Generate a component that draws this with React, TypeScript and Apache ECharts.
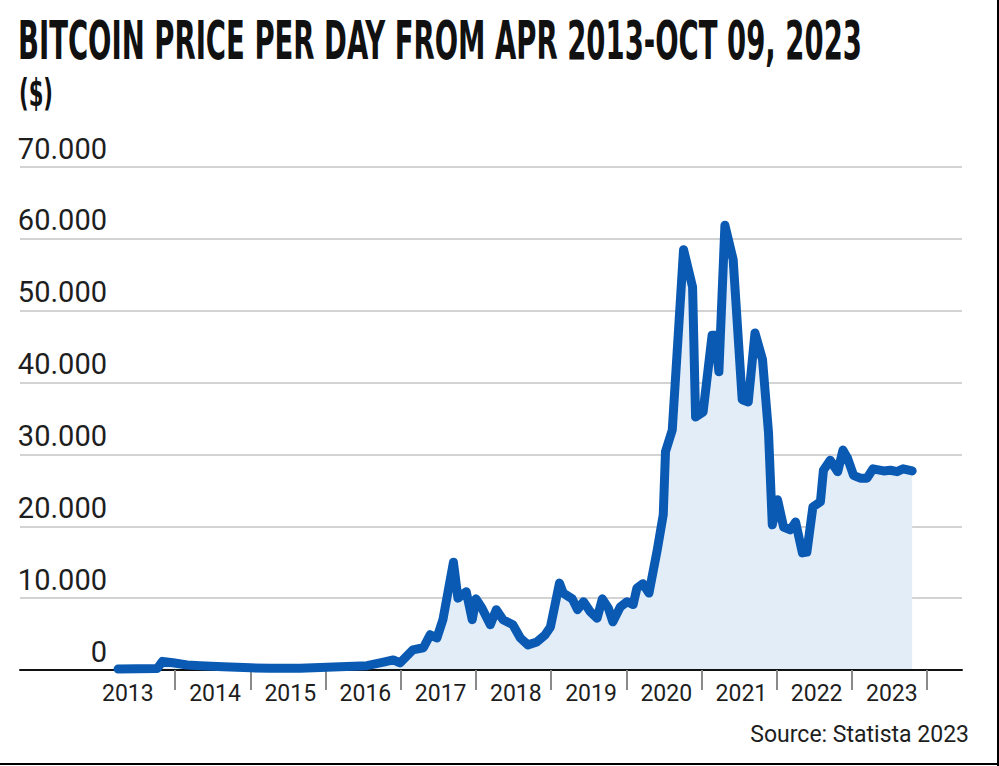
import React, { useEffect, useRef } from 'react';
import * as echarts from 'echarts';

// Decimal year of each reading, and the price in $
const dates = [
  2013.24, 2013.76, 2013.83, 2013.97, 2014.16, 2014.33, 2014.64, 2015.0, 2015.26, 2015.66,
  2016.55, 2016.77, 2016.9, 2016.99, 2017.16, 2017.3, 2017.39, 2017.48, 2017.56, 2017.7,
  2017.76, 2017.87, 2017.95, 2018.0, 2018.08, 2018.19, 2018.27, 2018.36, 2018.49, 2018.59,
  2018.69, 2018.81, 2018.92, 2018.99, 2019.11, 2019.16, 2019.28, 2019.35, 2019.43, 2019.52,
  2019.61, 2019.68, 2019.76, 2019.82, 2019.92, 2020.01, 2020.09, 2020.14, 2020.22, 2020.3,
  2020.41, 2020.49, 2020.52, 2020.61, 2020.76, 2020.88, 2020.92, 2021.02, 2021.14, 2021.18,
  2021.23, 2021.31, 2021.42, 2021.54, 2021.62, 2021.71, 2021.81, 2021.89, 2021.94, 2022.01,
  2022.09, 2022.18, 2022.25, 2022.34, 2022.4, 2022.48, 2022.58, 2022.62, 2022.71, 2022.81,
  2022.88, 2022.94, 2023.02, 2023.11, 2023.2, 2023.28, 2023.42, 2023.51, 2023.6, 2023.68,
  2023.8,
];
const prices = [
  130, 200, 1200, 1000, 700, 600, 450, 300, 250, 250,
  600, 1100, 1400, 1000, 2800, 3100, 4900, 4450, 7000, 15000,
  10000, 10900, 7000, 9900, 8600, 6300, 8400, 7000, 6300, 4450,
  3500, 3900, 4900, 6000, 12100, 10700, 9900, 8400, 9500, 8100,
  7200, 9900, 8600, 6700, 8800, 9500, 9100, 11400, 12000, 10700,
  16700, 21600, 30400, 33400, 58500, 53300, 35200, 35900, 46600, 46600,
  41500, 61900, 57100, 37600, 37300, 46900, 43200, 33000, 20200, 23700,
  19900, 19500, 20600, 16300, 16400, 22700, 23400, 27800, 29200, 27600,
  30600, 29500, 27100, 26700, 26700, 28000, 27700, 27800, 27600, 28000,
  27700,
];

const tickYears = [2014, 2015, 2016, 2017, 2018, 2019, 2020, 2021, 2022, 2023, 2024];
const labelYears = [2013, 2014, 2015, 2016, 2017, 2018, 2019, 2020, 2021, 2022, 2023];
const labelOffsets = [0.37, 0.53, 0.53, 0.53, 0.53, 0.53, 0.53, 0.53, 0.53, 0.53, 0.53];
const yTicks = [0, 10000, 20000, 30000, 40000, 50000, 60000, 70000];

const TITLE = 'BITCOIN PRICE PER DAY FROM APR 2013-OCT 09, 2023';
const UNIT = '($)';
const SOURCE = 'Source: Statista 2023';

const HEAD = "'DejaVu Sans Condensed', 'Liberation Sans', sans-serif";
const BODY = "Roboto, 'Liberation Sans', sans-serif";

function measure(text: string, font: string): number {
  const c = document.createElement('canvas').getContext('2d');
  if (!c) return 1;
  c.font = font;
  return c.measureText(text).width || 1;
}

function fmt(v: number): string {
  return String(Math.round(v)).replace(/\B(?=(\d{3})+(?!\d))/g, '.');
}

export default function App() {
  const ref = useRef<HTMLDivElement>(null);

  useEffect(() => {
    if (!ref.current) return;
    const chart = echarts.init(ref.current, undefined, { renderer: 'svg' });
    const data = dates.map((d, i) => [d, prices[i]]);
    const labelPos = labelYears.map((y, i) => y + labelOffsets[i]);

    const titleFont = `bold 53px ${HEAD}`;
    const titleScale = 844 / measure(TITLE, titleFont);
    const unitFont = `bold 37px ${HEAD}`;
    const unitScale = 34 / measure(UNIT, unitFont);

    chart.setOption({
      animation: false,
      backgroundColor: '#ffffff',
      grid: { left: 20, right: 37, top: 167, bottom: 96 },
      xAxis: {
        type: 'value',
        min: 2011.9362,
        max: 2024.4628,
        z: 3,
        axisLine: { show: true, lineStyle: { color: '#111111', width: 2 } },
        axisTick: {
          show: true,
          customValues: tickYears,
          length: 20,
          lineStyle: { color: '#8a8a8a', width: 2 },
        },
        axisLabel: {
          customValues: labelPos,
          formatter: (v: number) => String(Math.floor(v)),
          fontFamily: BODY,
          fontSize: 23,
          color: '#1e1e1e',
          margin: 12,
        },
        splitLine: { show: false },
      },
      yAxis: {
        type: 'value',
        min: 0,
        max: 70000,
        interval: 10000,
        axisLine: { show: false },
        axisTick: { show: false },
        splitLine: { show: true, lineStyle: { color: '#d3d3d3', width: 2 } },
        axisLabel: {
          inside: true,
          align: 'right',
          margin: 87,
          verticalAlign: 'bottom',
          lineHeight: 37,
          fontFamily: BODY,
          fontSize: 29,
          color: '#1e1e1e',
          formatter: (v: number) => (yTicks.includes(v) ? fmt(v) : ''),
        },
      },
      series: [
        {
          type: 'line',
          data,
          z: 2,
          silent: true,
          showSymbol: false,
          symbol: 'none',
          lineStyle: { width: 0, opacity: 0 },
          areaStyle: { color: '#e3edf8', opacity: 1 },
        },
        {
          type: 'line',
          data,
          z: 4,
          showSymbol: false,
          symbol: 'none',
          lineStyle: { width: 9, color: '#0a5ab4', cap: 'round', join: 'round' },
        },
      ],
      graphic: [
        {
          type: 'text',
          x: 18,
          y: 41,
          scaleX: titleScale,
          style: {
            x: 0,
            y: 0,
            text: TITLE,
            font: titleFont,
            fill: '#111111',
            verticalAlign: 'middle',
            align: 'left',
          },
        },
        {
          type: 'text',
          x: 19,
          y: 93,
          scaleX: unitScale,
          style: {
            x: 0,
            y: 0,
            text: UNIT,
            font: unitFont,
            fill: '#111111',
            verticalAlign: 'middle',
            align: 'left',
          },
        },
        {
          type: 'text',
          x: 969,
          y: 734,
          style: {
            text: SOURCE,
            font: `23px ${BODY}`,
            fill: '#1e1e1e',
            verticalAlign: 'middle',
            align: 'right',
          },
        },
        {
          type: 'line',
          shape: { x1: 998, y1: 0, x2: 998, y2: 766 },
          style: { stroke: '#000000', lineWidth: 2 },
        },
        {
          type: 'line',
          shape: { x1: 0, y1: 764, x2: 999, y2: 764 },
          style: { stroke: '#000000', lineWidth: 2 },
        },
      ],
    });

    return () => chart.dispose();
  }, []);

  return (
    <div
      ref={ref}
      style={{ position: 'fixed', left: 0, top: 0, width: 999, height: 766, background: '#fff' }}
    />
  );
}
